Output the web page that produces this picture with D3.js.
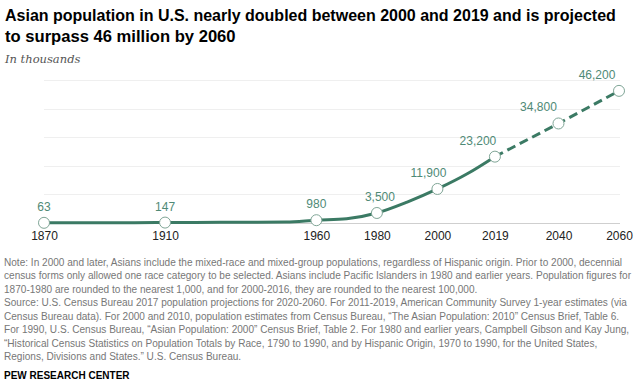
<!DOCTYPE html>
<html><head><meta charset="utf-8">
<script src="https://cdn.jsdelivr.net/npm/d3@7"></script>
<style>
html,body{margin:0;padding:0;background:#fff;}
svg{display:block;}
</style>
</head><body>
<svg id="chart" width="640" height="387"></svg>
<script>
// ---- data (thousands) ----
const historyYears  = [1870, 1880, 1890, 1900, 1910, 1920, 1930, 1940, 1950, 1960, 1970, 1980, 1990, 2000, 2010, 2019];
const historyValues = [63, 106, 110, 115, 147, 182, 265, 255, 321, 980, 1500, 3500, 7300, 11900, 17300, 23200];
const projectionYears  = [2019, 2040, 2060];
const projectionValues = [23200, 34800, 46200];
const markerYears  = [1870, 1910, 1960, 1980, 2000, 2019, 2040, 2060];
const markerValues = [63, 147, 980, 3500, 11900, 23200, 34800, 46200];
const markerLabels = ["63", "147", "980", "3,500", "11,900", "23,200", "34,800", "46,200"];
const tickYears = [1870, 1910, 1960, 1980, 2000, 2019, 2040, 2060];
const gridValues = [0, 10000, 20000, 30000, 40000, 50000];

const titleLines = [
  "Asian population in U.S. nearly doubled between 2000 and 2019 and is projected",
  "to surpass 46 million by 2060"
];
const subtitle = "In thousands";
const noteLines = [
  "Note: In 2000 and later, Asians include the mixed-race and mixed-group populations, regardless of Hispanic origin. Prior to 2000, decennial",
  "census forms only allowed one race category to be selected. Asians include Pacific Islanders in 1980 and earlier years. Population figures for",
  "1870-1980 are rounded to the nearest 1,000, and for 2000-2016, they are rounded to the nearest 100,000.",
  "Source: U.S. Census Bureau 2017 population projections for 2020-2060. For 2011-2019, American Community Survey 1-year estimates (via",
  "Census Bureau data). For 2000 and 2010, population estimates from Census Bureau, \u201CThe Asian Population: 2010\u201D Census Brief, Table 6.",
  "For 1990, U.S. Census Bureau, \u201CAsian Population: 2000\u201D Census Brief, Table 2. For 1980 and earlier years, Campbell Gibson and Kay Jung,",
  "\u201CHistorical Census Statistics on Population Totals by Race, 1790 to 1990, and by Hispanic Origin, 1970 to 1990, for the United States,",
  "Regions, Divisions and States.\u201D U.S. Census Bureau."
];
const sourceCredit = "PEW RESEARCH CENTER";

// ---- layout ----
const noteMaxWidth = 628;
const labelDx = [0, 0, 0, 3, -9, -17, -20, -22];
const green = "#3b7a64";
const labelGreen = "#4f8a76";
const sans = "'Liberation Sans', Arial, sans-serif";

const svg = d3.select("#chart");

// title: size chosen so line 1 spans ~609px
const t1 = svg.append("text").attr("x", 5).attr("y", 21)
  .attr("font-family", sans).attr("font-weight", "bold").attr("font-size", 16).attr("fill", "#000").text(titleLines[0]);
const titleSize = Math.min(16.3, 16 * 611 / t1.node().getComputedTextLength());
t1.attr("font-size", titleSize);
svg.append("text").attr("x", 5).attr("y", 42)
  .attr("font-family", sans).attr("font-weight", "bold").attr("font-size", titleSize + 0.6).attr("fill", "#000").text(titleLines[1]);

svg.append("text").attr("x", 5).attr("y", 63)
  .attr("font-family", "'DejaVu Serif', 'Liberation Serif', serif")
  .attr("font-style", "italic").attr("font-size", 11.5).attr("fill", "#555").text(subtitle);

// scales
const x = d3.scaleLinear().domain([1870, 2060]).range([44, 619]);
const y = d3.scaleLinear().domain([0, 50000]).range([223, 80]);

// grid
svg.append("g").selectAll("line").data(gridValues).join("line")
  .attr("x1", 44).attr("x2", 620)
  .attr("y1", d => Math.round(y(d)) + 0.5).attr("y2", d => Math.round(y(d)) + 0.5)
  .attr("stroke", d => d === 0 ? "#cfcfcf" : "#efefef").attr("stroke-width", 1);

// x axis
const xAxis = d3.axisBottom(x).tickValues(tickYears).tickFormat(d3.format("d")).tickSize(0).tickPadding(0);
const ax = svg.append("g").attr("transform", "translate(0,231)").call(xAxis);
ax.select(".domain").remove();
ax.selectAll("text").attr("font-family", sans).attr("font-size", 12).attr("fill", "#222");

// lines
const hist = historyYears.map((yr, i) => [yr, historyValues[i]]);
const proj = projectionYears.map((yr, i) => [yr, projectionValues[i]]);
const lineHist = d3.line().x(d => x(d[0])).y(d => y(d[1])).curve(d3.curveMonotoneX);
const lineProj = d3.line().x(d => x(d[0])).y(d => y(d[1]));
svg.append("path").attr("d", lineHist(hist)).attr("fill", "none")
  .attr("stroke", green).attr("stroke-width", 3).attr("stroke-linejoin", "round");
svg.append("path").attr("d", lineProj(proj)).attr("fill", "none")
  .attr("stroke", green).attr("stroke-width", 3).attr("stroke-dasharray", "9,5");

// markers
const markers = markerYears.map((yr, i) => ({yr, v: markerValues[i], label: markerLabels[i], dx: labelDx[i]}));
svg.append("g").selectAll("circle").data(markers).join("circle")
  .attr("cx", d => x(d.yr)).attr("cy", d => y(d.v)).attr("r", 5.5)
  .attr("fill", "#fff").attr("stroke", "#7fa596").attr("stroke-width", 1);
svg.append("g").selectAll("text").data(markers).join("text")
  .attr("x", d => x(d.yr) + d.dx).attr("y", d => y(d.v) - 12)
  .attr("text-anchor", "middle")
  .attr("font-family", sans).attr("font-size", 12).attr("fill", labelGreen).text(d => d.label);

// notes: one common size so the widest line fits
const notes = noteLines.map((t, i) => svg.append("text").attr("x", 4).attr("y", 265.5 + i * 13.5)
  .attr("font-family", sans).attr("font-size", 10.5).attr("fill", "#777").text(t));
const widest = d3.max(notes, s => s.node().getComputedTextLength());
const noteSize = Math.min(10.5, 10.5 * noteMaxWidth / widest);
notes.forEach(s => s.attr("font-size", noteSize));

svg.append("text").attr("x", 4).attr("y", 379)
  .attr("font-family", sans).attr("font-weight", "bold").attr("font-size", 10).attr("fill", "#000").text(sourceCredit);
</script>
</body></html>
